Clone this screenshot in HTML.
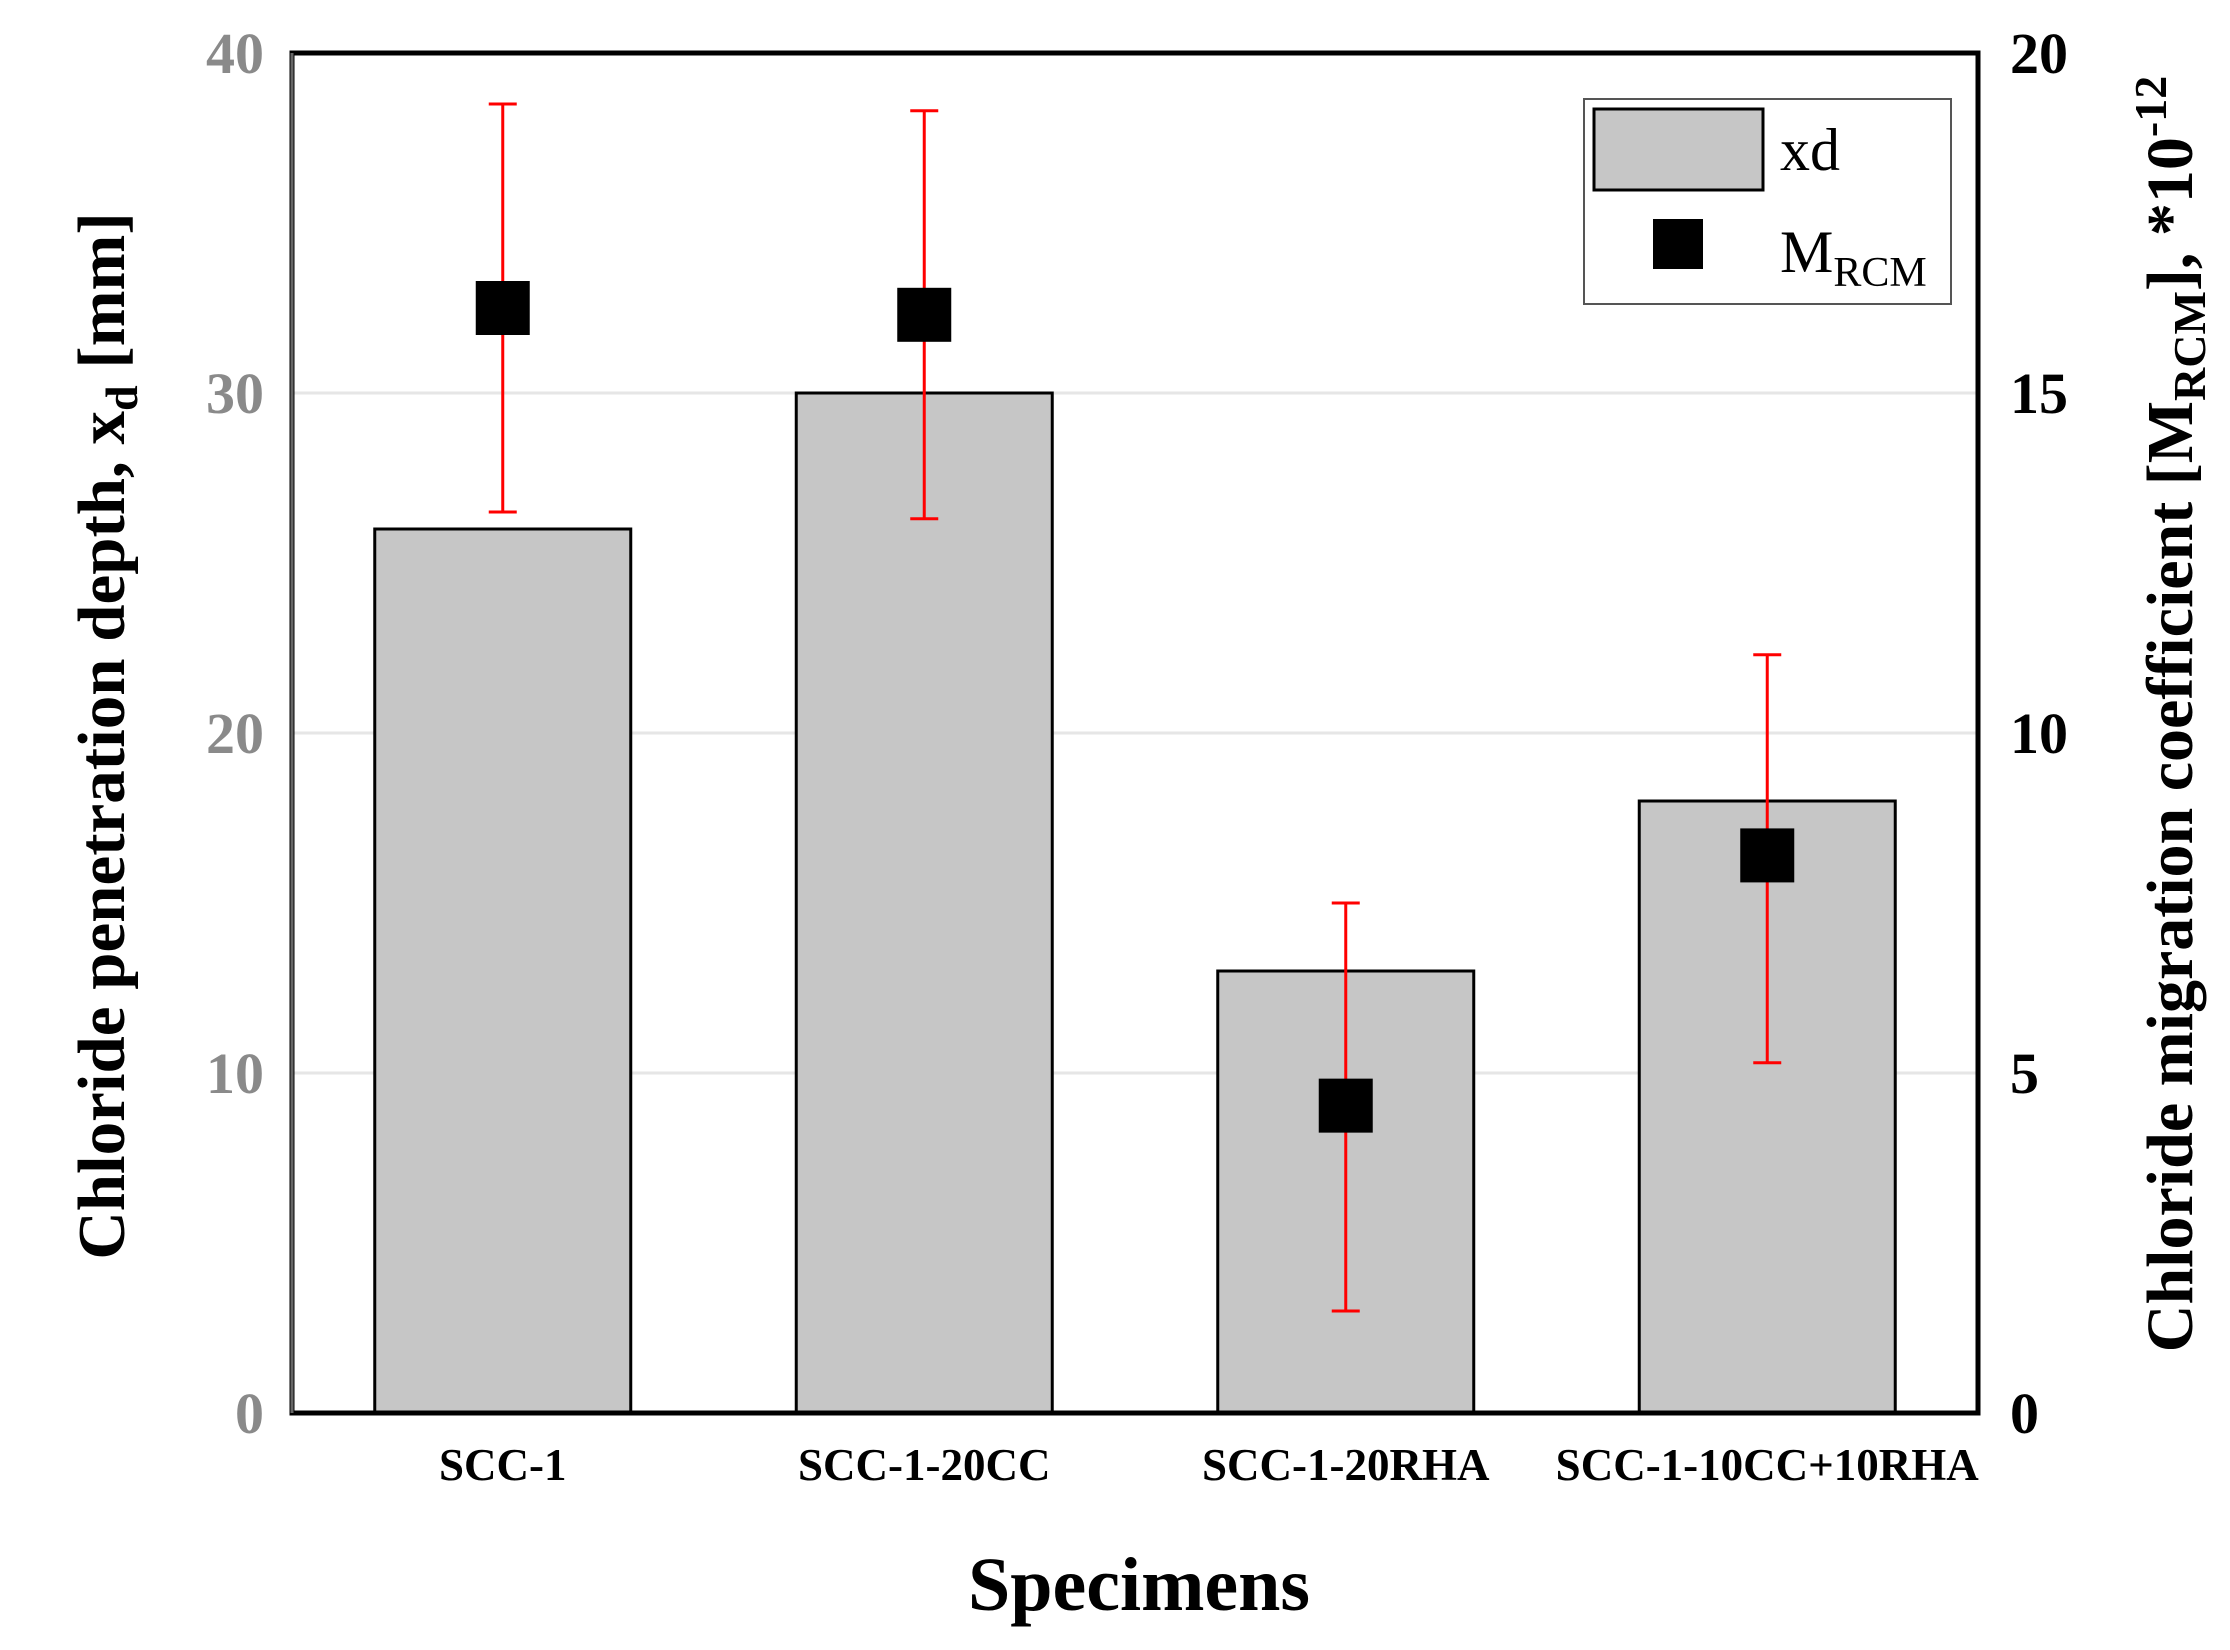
<!DOCTYPE html>
<html><head><meta charset="utf-8"><style>
html,body{margin:0;padding:0;background:#fff;}
svg{display:block;font-family:"Liberation Serif",serif;}
</style></head><body>
<svg id="chart" width="2230" height="1650" viewBox="0 0 2230 1650" xmlns="http://www.w3.org/2000/svg"></svg>
<script>
const categories = ["SCC-1","SCC-1-20CC","SCC-1-20RHA","SCC-1-10CC+10RHA"];
const xdValues = [26, 30, 13, 18];
const mValues = [16.25, 16.15, 4.52, 8.2];
const mErrLow = [13.25, 13.15, 1.5, 5.15];
const mErrHigh = [19.25, 19.15, 7.5, 11.15];
const leftTicks = [0, 10, 20, 30, 40];
const rightTicks = [0, 5, 10, 15, 20];

const NS = "http://www.w3.org/2000/svg";
const svg = document.getElementById('chart');
const L = 292, R = 1978, T = 53, B = 1413;
const yL = v => B - (v / 40) * (B - T);
const yR = v => B - (v / 20) * (B - T);
const bandW = (R - L) / categories.length;
const xC = i => L + bandW * (i + 0.5);
const barW = 256;

function mk(tag, attrs, parent) {
  const el = document.createElementNS(NS, tag);
  for (const k in attrs) el.setAttribute(k, attrs[k]);
  (parent || svg).appendChild(el);
  return el;
}

leftTicks.forEach(t => {
  if (t === 0 || t === 40) return;
  const g = mk('line', {x1: L, x2: R, y1: yL(t), y2: yL(t), stroke: '#e6e6e6', 'stroke-width': 3});
  
  
});

xdValues.forEach((v, i) => {
  const r = mk('rect', {x: xC(i) - barW / 2, y: yL(v), width: barW, height: B - yL(v), fill: '#c6c6c6', stroke: '#000', 'stroke-width': 3});
  
  
});

mValues.forEach((v, i) => {
  const x = xC(i);
  const e = mk('g', {stroke: '#f00', 'stroke-width': 3});
  
  
  mk('line', {x1: x, x2: x, y1: yR(mErrLow[i]), y2: yR(mErrHigh[i])}, e);
  mk('line', {x1: x - 14, x2: x + 14, y1: yR(mErrLow[i]), y2: yR(mErrLow[i])}, e);
  mk('line', {x1: x - 14, x2: x + 14, y1: yR(mErrHigh[i]), y2: yR(mErrHigh[i])}, e);
  const m = mk('rect', {x: x - 27, y: yR(v) - 27, width: 54, height: 54, fill: '#000'});
  
  
});

const fr = mk('path', {d: `M${L},${T} L${R},${T} L${R},${B} L${L},${B} Z`, fill: 'none', stroke: '#000', 'stroke-width': 5});


const fl = mk('line', {x1: L, x2: L, y1: T, y2: B, stroke: '#666', 'stroke-width': 3});



leftTicks.forEach(t => {
  const tx = mk('text', {x: 264, y: yL(t) + 20, 'text-anchor': 'end', 'font-size': 58, fill: '#8a8a8a', 'font-weight': 'bold'});
  tx.textContent = t;
  
  
});
rightTicks.forEach(t => {
  const tx = mk('text', {x: 2010, y: yR(t) + 20, 'text-anchor': 'start', 'font-size': 58, fill: '#000', 'font-weight': 'bold'});
  tx.textContent = t;
  
  
});
categories.forEach((c, i) => {
  const tx = mk('text', {x: xC(i), y: 1480, 'text-anchor': 'middle', 'font-size': 45, 'font-weight': 'bold', fill: '#000'});
  tx.textContent = c;
  
  
});
</script>
<svg width="2230" height="1650" style="position:absolute;left:0;top:0" xmlns="http://www.w3.org/2000/svg">
  <text x="1139" y="1610" text-anchor="middle" font-size="76" font-weight="bold" font-family="Liberation Serif, serif">Specimens</text>
  <text transform="translate(124,736) rotate(-90)" text-anchor="middle" font-size="67" font-weight="bold" font-family="Liberation Serif, serif">Chloride penetration depth, x<tspan font-size="46" dy="13">d</tspan><tspan dy="-13"> [mm]</tspan></text>
  <text transform="translate(2192,714) rotate(-90)" text-anchor="middle" font-size="66" font-weight="bold" font-family="Liberation Serif, serif">Chloride migration coefficient [M<tspan font-size="46" dy="13">RCM</tspan><tspan dy="-13">], *10</tspan><tspan font-size="46" dy="-26">-12</tspan></text>
  <g>
    <rect x="1584" y="99" width="367" height="205" fill="#fff" stroke="#555" stroke-width="2"/>
    <rect x="1594" y="109" width="169" height="81" fill="#c6c6c6" stroke="#000" stroke-width="3"/>
    <text x="1780" y="170" font-size="60" font-family="Liberation Serif, serif">xd</text>
    <rect x="1653" y="219" width="50" height="50" fill="#000"/>
    <text x="1780" y="272" font-size="60" font-family="Liberation Serif, serif">M<tspan font-size="42" dy="14">RCM</tspan></text>
  </g>
</svg>
</body></html>
